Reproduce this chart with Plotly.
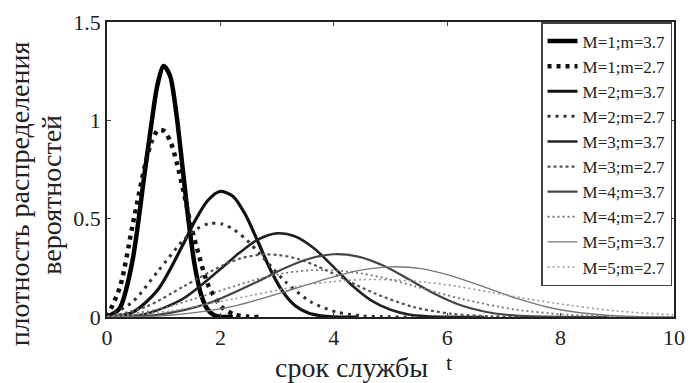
import plotly.graph_objects as go

# Values (t = service life, y = density)
t_M1_m37 = [0, 0.22, 0.44, 0.66, 0.78, 0.89, 1.00, 1.11, 1.22, 1.33, 1.44, 1.55, 1.66, 1.77, 1.88, 1.99, 2.22]
y_M1_m37 = [0, 0.043, 0.272, 0.723, 0.976, 1.180, 1.276, 1.228, 1.041, 0.767, 0.484, 0.257, 0.113, 0.040, 0.011, 0.002, 0]
t_M1_m27 = [0, 0.23, 0.45, 0.68, 0.79, 0.90, 1.01, 1.13, 1.24, 1.35, 1.46, 1.58, 1.80, 2.03, 2.25, 2.48, 2.70]
y_M1_m27 = [0, 0.154, 0.465, 0.783, 0.894, 0.950, 0.945, 0.883, 0.774, 0.637, 0.492, 0.356, 0.152, 0.049, 0.012, 0.002, 0]

t_M2_m37 = [0, 0.44, 0.89, 1.33, 1.55, 1.77, 1.99, 2.22, 2.44, 2.66, 2.88, 3.10, 3.32, 3.55, 3.77, 3.99, 4.43]
y_M2_m37 = [0, 0.022, 0.136, 0.362, 0.488, 0.590, 0.638, 0.614, 0.521, 0.384, 0.242, 0.129, 0.057, 0.020, 0.006, 0.001, 0]
t_M2_m27 = [0, 0.45, 0.90, 1.35, 1.58, 1.80, 2.03, 2.25, 2.48, 2.70, 2.93, 3.15, 3.60, 4.05, 4.50, 4.95, 5.40]
y_M2_m27 = [0, 0.077, 0.233, 0.392, 0.447, 0.475, 0.473, 0.442, 0.387, 0.319, 0.246, 0.178, 0.076, 0.025, 0.006, 0.001, 0]

t_M3_m37 = [0, 0.66, 1.33, 1.99, 2.33, 2.66, 2.99, 3.32, 3.66, 3.99, 4.32, 4.65, 4.99, 5.32, 5.65, 5.98, 6.65]
y_M3_m37 = [0, 0.014, 0.091, 0.241, 0.325, 0.393, 0.425, 0.409, 0.347, 0.256, 0.161, 0.086, 0.038, 0.013, 0.004, 0.001, 0]
t_M3_m27 = [0, 0.68, 1.35, 2.03, 2.36, 2.70, 3.04, 3.38, 3.71, 4.05, 4.39, 4.73, 5.40, 6.08, 6.75, 7.43, 8.10]
y_M3_m27 = [0, 0.051, 0.155, 0.261, 0.298, 0.317, 0.315, 0.294, 0.258, 0.212, 0.164, 0.119, 0.051, 0.016, 0.004, 0.001, 0]

t_M4_m37 = [0, 0.89, 1.77, 2.66, 3.10, 3.55, 3.99, 4.43, 4.88, 5.32, 5.76, 6.20, 6.65, 7.09, 7.53, 7.98, 8.86]
y_M4_m37 = [0, 0.011, 0.068, 0.181, 0.244, 0.295, 0.319, 0.307, 0.260, 0.192, 0.121, 0.064, 0.028, 0.010, 0.003, 0.001, 0]
t_M4_m27 = [0, 0.90, 1.80, 2.70, 3.15, 3.60, 4.05, 4.50, 4.95, 5.40, 5.85, 6.30, 7.20, 8.10, 9.00, 9.90, 10.80]
y_M4_m27 = [0, 0.039, 0.116, 0.196, 0.224, 0.238, 0.236, 0.221, 0.194, 0.159, 0.123, 0.089, 0.038, 0.012, 0.003, 0.001, 0]

t_M5_m37 = [0, 1.11, 2.22, 3.32, 3.88, 4.43, 4.99, 5.54, 6.09, 6.65, 7.20, 7.76, 8.31, 8.86, 9.42, 9.97, 11.08]
y_M5_m37 = [0, 0.009, 0.054, 0.145, 0.195, 0.236, 0.255, 0.246, 0.208, 0.153, 0.097, 0.051, 0.023, 0.008, 0.002, 0.0004, 0]
t_M5_m27 = [0, 1.13, 2.25, 3.38, 3.94, 4.50, 5.06, 5.63, 6.19, 6.75, 7.31, 7.88, 9.00, 10.13, 11.25, 12.38, 13.5]
y_M5_m27 = [0, 0.031, 0.093, 0.157, 0.179, 0.190, 0.189, 0.177, 0.155, 0.127, 0.098, 0.071, 0.030, 0.010, 0.002, 0.0004, 0]

series_names = ["M=1;m=3.7", "M=1;m=2.7", "M=2;m=3.7", "M=2;m=2.7", "M=3;m=3.7",
                "M=3;m=2.7", "M=4;m=3.7", "M=4;m=2.7", "M=5;m=3.7", "M=5;m=2.7"]
series_t = [t_M1_m37, t_M1_m27, t_M2_m37, t_M2_m27, t_M3_m37,
            t_M3_m27, t_M4_m37, t_M4_m27, t_M5_m37, t_M5_m27]
series_y = [y_M1_m37, y_M1_m27, y_M2_m37, y_M2_m27, y_M3_m37,
            y_M3_m27, y_M4_m37, y_M4_m27, y_M5_m37, y_M5_m27]

x_ticks = [0, 2, 4, 6, 8, 10]
y_ticks = [0, 0.5, 1, 1.5]
y_tick_text = ["0", "0.5", "1", "1.5"]
y_title_lines = ["плотность распределения", "вероятностей"]
x_title = "срок службы"
x_var = "t"

styles = [
    dict(color="#000000", width=4.5, dash="solid"),
    dict(color="#111111", width=4.5, dash="4px,5px"),
    dict(color="#111111", width=3.2, dash="solid"),
    dict(color="#333333", width=3.0, dash="3px,5px"),
    dict(color="#222222", width=2.6, dash="solid"),
    dict(color="#555555", width=2.2, dash="3px,3px"),
    dict(color="#444444", width=2.2, dash="solid"),
    dict(color="#777777", width=1.8, dash="2px,3px"),
    dict(color="#777777", width=1.4, dash="solid"),
    dict(color="#999999", width=1.6, dash="2px,3px"),
]

fig = go.Figure()
for name, tt, yy, st in zip(series_names, series_t, series_y, styles):
    fig.add_trace(go.Scatter(x=tt, y=yy, mode="lines", name=name,
                             line=dict(shape="spline", smoothing=0.8, **st)))

serif = "Liberation Serif, Times New Roman, serif"
L, R, T, B = 107, 10, 18, 66
PW = 695 - L - R
PH = 383 - T - B
fig.update_layout(
    width=695, height=383,
    margin=dict(l=L, r=R, t=T, b=B),
    paper_bgcolor="white", plot_bgcolor="white",
    showlegend=True,
    legend=dict(x=(683 - L) / PW, y=(383 - B - 18) / PH, xanchor="right", yanchor="top",
                bgcolor="white", bordercolor="#444444", borderwidth=1.5,
                font=dict(family=serif, size=17, color="#222222"),
                tracegroupgap=0),
    font=dict(family=serif, color="#111111"),
)
fig.update_xaxes(range=[0, 10], tickvals=x_ticks, ticks="inside", ticklen=4,
                 showline=True, linecolor="#222222", linewidth=1.5, mirror="ticks",
                 showgrid=False, zeroline=False, ticklabeloverflow="allow",
                 tickfont=dict(family=serif, size=22, color="#222222"))
fig.update_yaxes(range=[0, 1.5], tickvals=y_ticks, ticktext=y_tick_text,
                 ticks="inside", ticklen=4,
                 showline=True, linecolor="#222222", linewidth=1.5, mirror="ticks",
                 showgrid=False, zeroline=False,
                 tickfont=dict(family=serif, size=22, color="#222222"))

def px_x(px):
    return (px - L) / PW

def px_y(py):
    return (383 - B - py) / PH

fig.add_annotation(text=y_title_lines[0], textangle=-90,
                   xref="paper", yref="paper", x=px_x(18), y=px_y(192),
                   xanchor="center", yanchor="middle",
                   showarrow=False, font=dict(family=serif, size=28, color="#222222"))
fig.add_annotation(text=y_title_lines[1], textangle=-90,
                   xref="paper", yref="paper", x=px_x(51), y=px_y(193),
                   xanchor="center", yanchor="middle",
                   showarrow=False, font=dict(family=serif, size=28, color="#222222"))
fig.add_annotation(text=x_title, xref="paper", yref="paper", x=px_x(356), y=px_y(368),
                   xanchor="center", yanchor="middle",
                   showarrow=False, font=dict(family=serif, size=28, color="#222222"))
fig.add_annotation(text=x_var, xref="paper", yref="paper", x=px_x(456), y=px_y(363),
                   xanchor="center", yanchor="middle",
                   showarrow=False, font=dict(family=serif, size=22, color="#222222"))

fig.write_html("out.html")
